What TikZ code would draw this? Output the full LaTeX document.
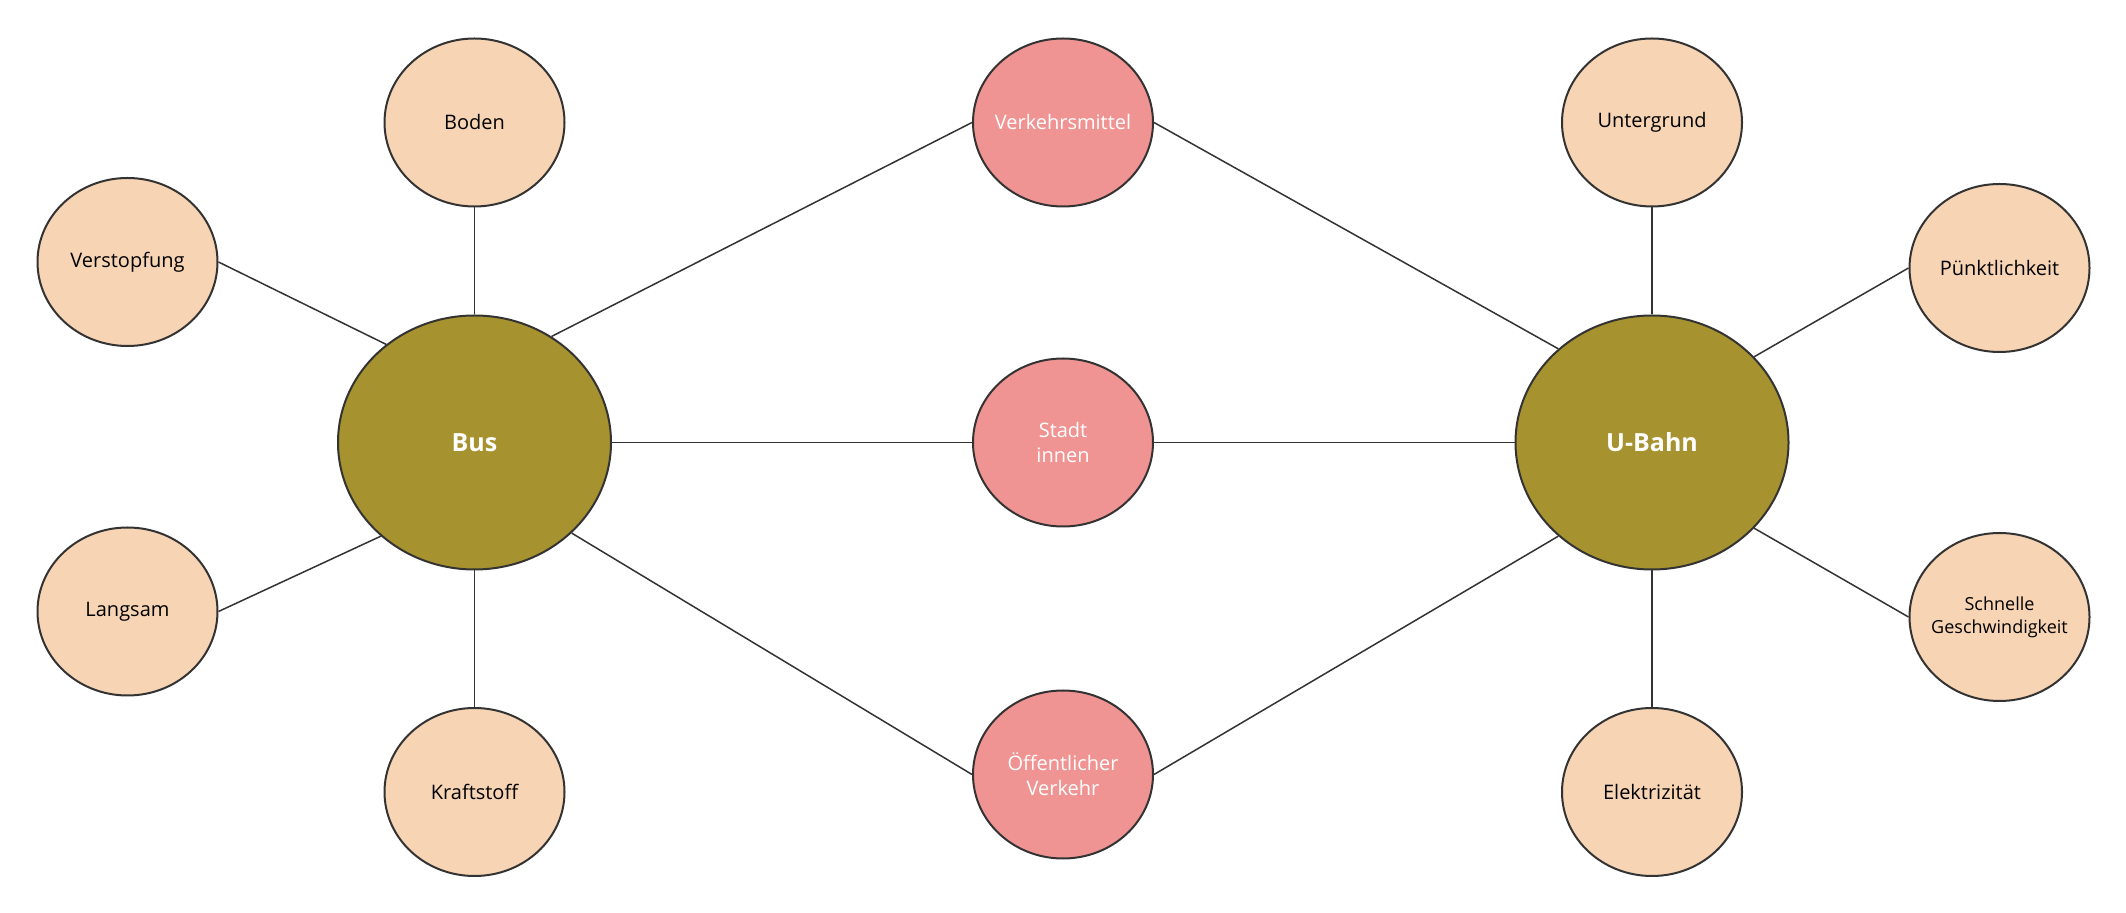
\documentclass[tikz,border=0pt]{standalone}
\usepackage{fontspec}
\setmainfont{Open Sans}
\usetikzlibrary{shapes.geometric}
\definecolor{peach}{HTML}{F7D4B4}
\definecolor{rose}{HTML}{F09493}
\definecolor{olive}{HTML}{A6922E}
\definecolor{edge}{HTML}{333333}
\begin{document}
\begin{tikzpicture}[x=0.5pt,y=-0.5pt,line width=0.75pt,
	leaf/.style={ellipse,draw=edge,line width=1pt,fill=peach,minimum width=90pt,minimum height=84pt,inner xsep=-15pt,inner ysep=0pt,align=center,font=\fontsize{10}{12.5}\selectfont},
	mid/.style={leaf,fill=rose,text=white},
	hub/.style={leaf,fill=olive,text=white,minimum width=136.5pt,minimum height=127pt,font=\fontsize{12.5}{15}\selectfont\bfseries},
	link/.style={draw=edge}]
\useasboundingbox (0,0) rectangle (2126,913);

\node[hub] (bus) at (474.5,442.5) {Bus};
\node[hub] (ubahn) at (1652,442.5) {U-Bahn};

\node[mid] (verkehr) at (1063,122.5) {Verkehrsmittel};
\node[mid] (stadt) at (1063,442.5) {Stadt\\innen};
\node[mid] (oeff) at (1063,774.5) {Öffentlicher\\Verkehr};

\node[leaf] (boden) at (474.5,122.5) {Boden};
\node[leaf] (verstopf) at (127.5,262) {Verstopfung};
\node[leaf] (langsam) at (127.5,611.5) {Langsam};
\node[leaf] (kraft) at (474.5,792) {Kraftstoff};

\node[leaf] (untergrund) at (1652,122.5) {Untergrund};
\node[leaf] (puenkt) at (1999.5,268) {Pünktlichkeit};
\node[leaf,font=\fontsize{9}{11.5}\selectfont] (schnell) at (1999.5,617) {Schnelle\\Geschwindigkeit};
\node[leaf] (elektro) at (1652,792) {Elektrizität};

\draw[link] (boden.south)--(bus.north);
\draw[link] (bus.south)--(kraft.north);
\draw[link] (verstopf.east)--(bus.132);
\draw[link] (langsam.east)--(bus.225);
\draw[link] (bus.54)--(verkehr.west);
\draw[link] (bus.east)--(stadt.west);
\draw[link] (bus.317)--(oeff.west);

\draw[link] (untergrund.south)--(ubahn.north);
\draw[link] (ubahn.south)--(elektro.north);
\draw[link] (verkehr.east)--(ubahn.135);
\draw[link] (stadt.east)--(ubahn.west);
\draw[link] (oeff.east)--(ubahn.225);
\draw[link] (ubahn.40)--(puenkt.west);
\draw[link] (ubahn.320)--(schnell.west);

\end{tikzpicture}
\end{document}
